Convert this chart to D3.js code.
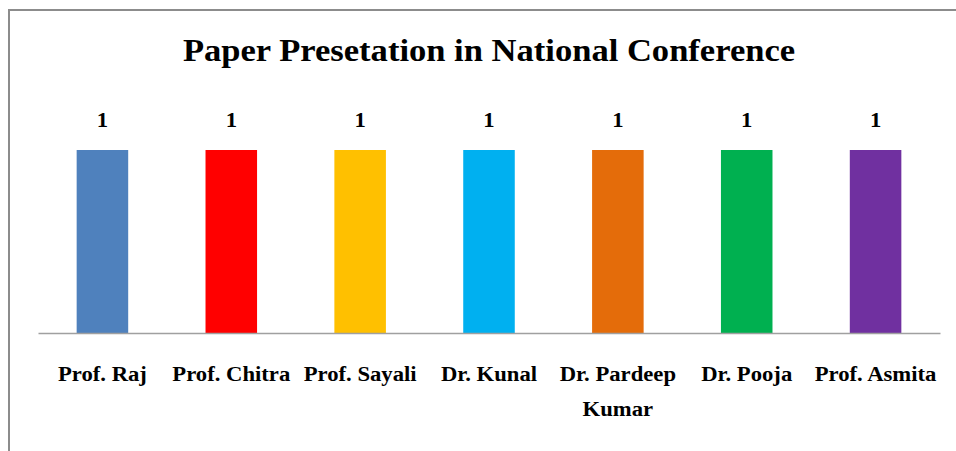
<!DOCTYPE html>
<html>
<head>
<meta charset="utf-8">
<script src="https://d3js.org/d3.v7.min.js"></script>
<style>
    body { margin: 0; background: #fff; }
    text { font-family: "Liberation Serif", "Times New Roman", serif; font-weight: bold; fill: #000; }
</style>
</head>
<body>
<script>
    var names = ["Prof. Raj", "Prof. Chitra", "Prof. Sayali", "Dr. Kunal", "Dr. Pardeep Kumar", "Dr. Pooja", "Prof. Asmita"];
    var papers = [1, 1, 1, 1, 1, 1, 1];
    var colors = ["#4F81BD", "#FF0000", "#FFC000", "#00B0F0", "#E46C0A", "#00B050", "#7030A0"];
    var title = "Paper Presetation in National Conference";

    var width = 956, height = 451;
    var stretch = 1.08; // the reference text is a bit wider than plain Times
    var svg = d3.select("body").append("svg")
        .attr("width", width)
        .attr("height", height);

    // chart frame (only left and top edges are inside the picture)
    svg.append("rect")
        .attr("x", 9).attr("y", 10)
        .attr("width", 1000).attr("height", 500)
        .attr("fill", "none")
        .attr("stroke", "#8c8c8c")
        .attr("stroke-width", 2);

    var x = d3.scaleBand()
        .domain(names)
        .range([38, 940])
        .paddingInner(0.6)
        .paddingOuter(0.3);

    var y = d3.scaleLinear()
        .domain([0, 1])
        .range([333, 150]);

    svg.append("text")
        .attr("transform", "translate(489,61) scale(" + stretch + ",1)")
        .attr("text-anchor", "middle")
        .style("font-size", "32px")
        .text(title);

    svg.selectAll(".bar")
        .data(names)
        .enter().append("rect")
        .attr("class", "bar")
        .attr("x", function (d) { return x(d); })
        .attr("y", function (d, i) { return y(papers[i]); })
        .attr("width", x.bandwidth())
        .attr("height", function (d, i) { return y(0) - y(papers[i]); })
        .attr("fill", function (d, i) { return colors[i]; });

    svg.selectAll(".val")
        .data(names)
        .enter().append("text")
        .attr("class", "val")
        .attr("transform", function (d, i) {
            return "translate(" + (x(d) + x.bandwidth() / 2) + "," + (y(papers[i]) - 23) + ") scale(" + stretch + ",1)";
        })
        .attr("text-anchor", "middle")
        .style("font-size", "21px")
        .text(function (d, i) { return papers[i]; });

    var axis = svg.append("g")
        .attr("transform", "translate(0," + y(0) + ")")
        .call(d3.axisBottom(x).tickSize(0).tickPadding(0));
    axis.select(".domain")
        .attr("stroke", "#a0a0a0")
        .attr("stroke-width", 1.5);
    axis.selectAll(".tick text").remove();

    // category labels, wrapped to the band step like Excel does
    var step = x.step();
    axis.selectAll(".tick").each(function (d) {
        var t = d3.select(this).append("text")
            .attr("text-anchor", "middle")
            .attr("transform", "translate(0,48) scale(" + stretch + ",1)")
            .style("font-size", "21px");
        var words = d.split(" "), line = [];
        var tspan = t.append("tspan").attr("x", 0).attr("dy", 0);
        words.forEach(function (w) {
            line.push(w);
            tspan.text(line.join(" "));
            if (tspan.node().getComputedTextLength() * stretch > step - 2 && line.length > 1) {
                line.pop();
                tspan.text(line.join(" "));
                line = [w];
                tspan = t.append("tspan").attr("x", 0).attr("dy", 35).text(w);
            }
        });
    });
</script>
</body>
</html>
